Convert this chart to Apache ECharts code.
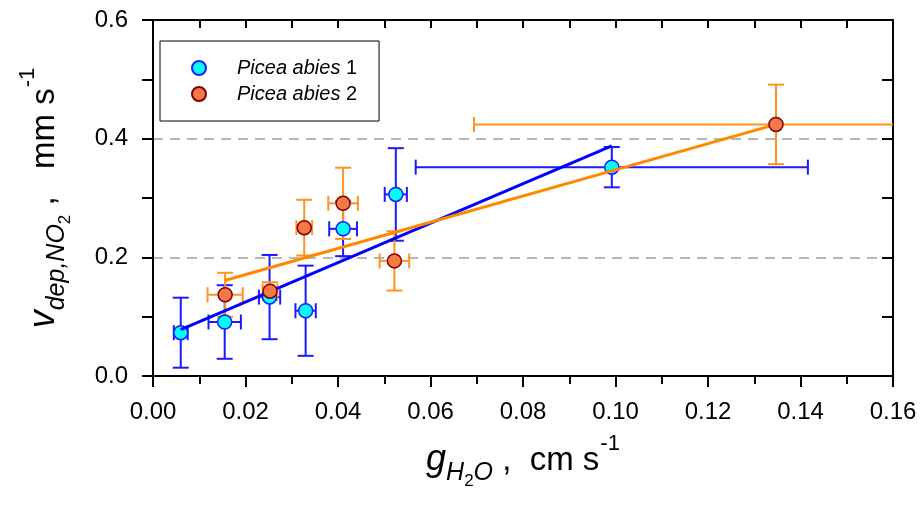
<!DOCTYPE html>
<html><head><meta charset="utf-8">
<script src="https://cdn.jsdelivr.net/npm/echarts/dist/echarts.min.js"></script>
<style>html,body{margin:0;padding:0;background:#fff}#c{width:920px;height:506px}</style>
</head><body><div id="c"></div>
<script>
// ---- data ----
const abies1Name = 'Picea abies 1';
const abies1X    = [0.0060, 0.0155, 0.0252, 0.0330, 0.0411, 0.0525, 0.0992];
const abies1Y    = [0.073, 0.091, 0.133, 0.110, 0.248, 0.306, 0.352];
const abies1XErr = [0.0015, 0.0035, 0.0023, 0.0022, 0.0030, 0.0024, 0.0424];
const abies1YErr = [0.059, 0.062, 0.071, 0.076, 0.046, 0.078, 0.034];

const abies2Name = 'Picea abies 2';
const abies2X    = [0.0156, 0.0253, 0.0327, 0.0411, 0.0522, 0.1347];
const abies2Y    = [0.137, 0.143, 0.250, 0.291, 0.194, 0.424];
const abies2XErr = [0.0038, 0.0016, 0.0017, 0.0032, 0.0032, 0.0653];
const abies2YErr = [0.037, 0.015, 0.047, 0.060, 0.050, 0.067];

const fit1X = [0.0060, 0.0992];
const fit1Y = [0.078, 0.388];
const fit2X = [0.0155, 0.1347];
const fit2Y = [0.161, 0.424];

const xTickLabels = ['0.00','0.02','0.04','0.06','0.08','0.10','0.12','0.14','0.16'];
const yTickLabels = ['0.0','0.2','0.4','0.6'];
// ---------------------------------------

const FONT = '"Liberation Sans", Arial, sans-serif';
const zip = (...a) => a[0].map((_, i) => a.map(arr => arr[i]));

function errRender(color) {
  return function (params, api) {
    const x = api.value(0), y = api.value(1), ex = api.value(2), ey = api.value(3);
    const cs = params.coordSys;
    const xmin = cs.x, xmax = cs.x + cs.width;
    const c = api.coord([x, y]);
    const top = api.coord([x, y + ey])[1];
    const bot = api.coord([x, y - ey])[1];
    const l = api.coord([x - ex, y])[0];
    const r = api.coord([x + ex, y])[0];
    const style = { stroke: color, lineWidth: 2, fill: null };
    const cw = 8, ch = 7.5;
    const ch_ = [
      { type: 'line', shape: { x1: c[0], y1: top, x2: c[0], y2: bot }, style },
      { type: 'line', shape: { x1: c[0] - cw, y1: top, x2: c[0] + cw, y2: top }, style },
      { type: 'line', shape: { x1: c[0] - cw, y1: bot, x2: c[0] + cw, y2: bot }, style },
      { type: 'line', shape: { x1: Math.max(l, xmin), y1: c[1], x2: Math.min(r, xmax), y2: c[1] }, style }
    ];
    if (l >= xmin) ch_.push({ type: 'line', shape: { x1: l, y1: c[1] - ch, x2: l, y2: c[1] + ch }, style });
    if (r <= xmax) ch_.push({ type: 'line', shape: { x1: r, y1: c[1] - ch, x2: r, y2: c[1] + ch }, style });
    return { type: 'group', children: ch_ };
  };
}

const nameRich = {
  i:   { fontFamily: FONT, fontSize: 36, fontStyle: 'italic', color: '#000', verticalAlign: 'top', lineHeight: 36, padding: [9, 0, 0, 0] },
  n:   { fontFamily: FONT, fontSize: 33, color: '#000', verticalAlign: 'top', lineHeight: 33, padding: [11, 0, 0, 0] },
  s:   { fontFamily: FONT, fontSize: 25, fontStyle: 'italic', color: '#000', verticalAlign: 'top', lineHeight: 25, padding: [28, 0, 0, 0] },
  ss:  { fontFamily: FONT, fontSize: 17, color: '#000', verticalAlign: 'top', lineHeight: 17, padding: [40, 0, 0, 0] },
  sup: { fontFamily: FONT, fontSize: 22, color: '#000', verticalAlign: 'top', lineHeight: 22, padding: [0, 0, 0, 1] }
};

const axisLineStyle = { onZero: false, lineStyle: { color: '#000', width: 2 } };

const chart = echarts.init(document.getElementById('c'));
chart.setOption({
  animation: false,
  backgroundColor: '#fff',
  grid: { left: 153, right: 27, top: 20, bottom: 130, containLabel: false },
  legend: {
    left: 160, top: 41, orient: 'vertical',
    data: [abies1Name, abies2Name],
    selectedMode: false,
    borderColor: '#000', borderWidth: 1,
    padding: [17, 22, 17, 31],
    itemWidth: 14, itemHeight: 14, itemGap: 6,
    formatter: function (name) {
      const p = name.split(' ');
      return '{it|' + p[0] + ' ' + p[1] + '} ' + p[2];
    },
    textStyle: {
      fontFamily: FONT, fontSize: 20, color: '#000',
      rich: { it: { fontFamily: FONT, fontSize: 20, fontStyle: 'italic', color: '#000', padding: [0, 0, 0, 26] } }
    }
  },
  xAxis: [
    {
      type: 'value', position: 'bottom', min: 0, max: 0.16, interval: 0.02, z: 1,
      axisLine: axisLineStyle,
      axisTick: { show: true, length: 11, inside: false, lineStyle: { color: '#000', width: 2 } },
      minorTick: { show: true, splitNumber: 2, length: 8, lineStyle: { color: '#000', width: 2 } },
      splitLine: { show: false },
      axisLabel: {
        margin: 24, fontFamily: FONT, fontSize: 24, color: '#000',
        formatter: v => xTickLabels[Math.round(v / 0.02)]
      },
      name: '{i|g}{s|H}{ss|2}{s|O}{n| ,  cm s}{sup|-1}',
      nameLocation: 'middle', nameGap: 57,
      nameTextStyle: { rich: nameRich }
    },
    {
      type: 'value', position: 'top', min: 0, max: 0.16, interval: 0.02, z: 1,
      axisLine: axisLineStyle,
      axisTick: { show: true, length: 8, inside: true, lineStyle: { color: '#000', width: 2 } },
      minorTick: { show: true, splitNumber: 2, length: 8, lineStyle: { color: '#000', width: 2 } },
      splitLine: { show: false },
      axisLabel: { show: false }
    }
  ],
  yAxis: [
    {
      type: 'value', position: 'left', min: 0, max: 0.6, interval: 0.2, z: 0,
      axisLine: axisLineStyle,
      axisTick: { show: true, length: 11, inside: false, lineStyle: { color: '#000', width: 2 } },
      minorTick: { show: true, splitNumber: 2, length: 11, lineStyle: { color: '#000', width: 2 } },
      splitLine: { show: true, lineStyle: { color: '#a0a0a0', width: 1.5, type: [10, 7] } },
      axisLabel: {
        margin: 25, fontFamily: FONT, fontSize: 24, color: '#000',
        formatter: v => yTickLabels[Math.round(v / 0.2)]
      },
      name: '{i|v}{s|dep,NO}{ss|2}{n| ,   mm s}{sup|-1}',
      nameLocation: 'middle', nameGap: 100,
      nameTextStyle: { rich: nameRich }
    },
    {
      type: 'value', position: 'right', min: 0, max: 0.6, interval: 0.2, z: 1,
      axisLine: axisLineStyle,
      axisTick: { show: true, length: 11, inside: true, lineStyle: { color: '#000', width: 2 } },
      minorTick: { show: true, splitNumber: 2, length: 11, lineStyle: { color: '#000', width: 2 } },
      splitLine: { show: false },
      axisLabel: { show: false }
    }
  ],
  series: [
    {
      type: 'custom', name: 'err1', z: 1, silent: true,
      renderItem: errRender('#1a1aff'),
      data: zip(abies1X, abies1Y, abies1XErr, abies1YErr)
    },
    {
      type: 'custom', name: 'err2', z: 2, silent: true,
      renderItem: errRender('#ff9222'),
      data: zip(abies2X, abies2Y, abies2XErr, abies2YErr)
    },
    {
      type: 'scatter', name: abies1Name, z: 3, symbol: 'circle', symbolSize: 14,
      itemStyle: { color: '#00ffff', borderColor: '#1a1aff', borderWidth: 1.5, opacity: 1 },
      data: zip(abies1X, abies1Y)
    },
    {
      type: 'line', name: 'fit1', z: 4, showSymbol: false, silent: true,
      lineStyle: { color: '#0000ff', width: 3 },
      data: zip(fit1X, fit1Y)
    },
    {
      type: 'line', name: 'fit2', z: 5, showSymbol: false, silent: true,
      lineStyle: { color: '#ff8800', width: 3 },
      data: zip(fit2X, fit2Y)
    },
    {
      type: 'scatter', name: abies2Name, z: 6, symbol: 'circle', symbolSize: 14,
      itemStyle: { color: '#f47a45', borderColor: '#800000', borderWidth: 1.5, opacity: 1 },
      data: zip(abies2X, abies2Y)
    }
  ]
});
</script>
</body></html>
